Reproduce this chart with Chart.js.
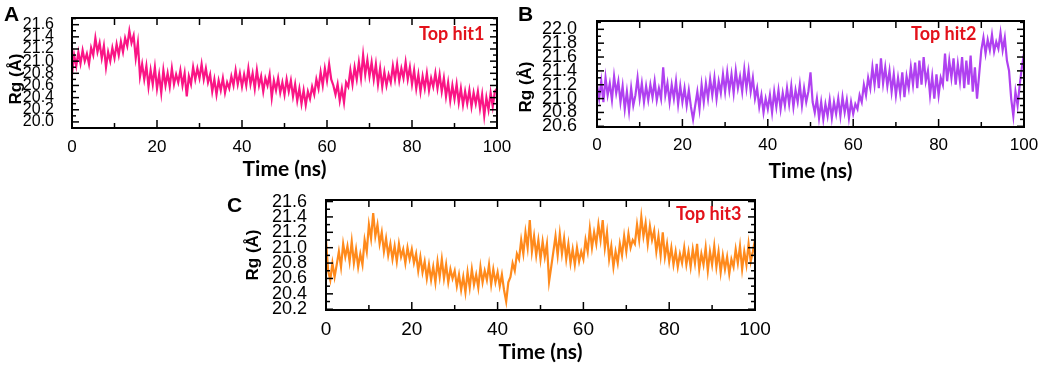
<!DOCTYPE html>
<html>
<head>
<meta charset="utf-8">
<script src="https://cdn.jsdelivr.net/npm/chart.js@4.4.1/dist/chart.umd.min.js"></script>
<style>
  body { margin: 0; background: #fff; width: 1045px; height: 366px; position: relative; overflow: hidden; font-family: 'Liberation Sans', Arial, sans-serif; }
  canvas { position: absolute; }
  .letter { position: absolute; font-weight: bold; font-size: 21px; line-height: 1; color: #000; }
  .ylab { position: absolute; font-weight: bold; font-size: 17px; line-height: 1; white-space: nowrap; transform: translate(-50%, -50%) rotate(-90deg); }
  .hit { position: absolute; color: #e3121b; font-weight: bold; font-family: Lato, 'Liberation Sans', sans-serif; font-size: 18px; line-height: 1; }
</style>
</head>
<body>
<canvas id="chartA" width="515" height="185" style="left:0;top:0"></canvas>
<canvas id="chartB" width="530" height="185" style="left:515px;top:0"></canvas>
<canvas id="chartC" width="560" height="186" style="left:220px;top:180px"></canvas>

<div class="letter" style="left:4px;top:3px">A</div>
<div class="letter" style="left:518px;top:3px">B</div>
<div class="letter" style="left:227px;top:194px">C</div>

<div class="ylab" style="left:15px;top:79px">Rg (Å)</div>
<div class="ylab" style="left:525px;top:87px">Rg (Å)</div>
<div class="ylab" style="left:252px;top:255px">Rg (Å)</div>

<div class="hit" style="left:419px;top:24px">Top hit1</div>
<div class="hit" style="left:911px;top:24px">Top hit2</div>
<div class="hit" style="left:676px;top:204px">Top hit3</div>

<script>
// sampling step of the read-off series (ns)
const STEP = 0.5;

const xTicks = [0, 20, 40, 60, 80, 100];
const yTicksA = [20.0, 20.2, 20.4, 20.6, 20.8, 21.0, 21.2, 21.4, 21.6];
const yTicksB = [20.6, 20.8, 21.0, 21.2, 21.4, 21.6, 21.8, 22.0];
const yTicksC = [20.2, 20.4, 20.6, 20.8, 21.0, 21.2, 21.4, 21.6];

// Rg (Å), every 0.5 ns from 0 to 100 ns
const rgA = [
  20.78, 21.10, 20.92, 21.15, 20.96, 21.18, 21.00, 21.12, 20.95, 21.22,
  21.10, 21.38, 21.15, 21.30, 21.05, 21.25, 20.90, 21.15, 21.00, 21.22,
  21.05, 21.28, 21.10, 21.32, 21.15, 21.38, 21.25, 21.50, 21.30, 21.42,
  21.05, 21.30, 20.75, 20.95, 20.70, 20.92, 20.58, 20.85, 20.62, 20.90,
  20.55, 20.78, 20.48, 20.85, 20.60, 20.80, 20.58, 20.88, 20.62, 20.78,
  20.65, 20.85, 20.60, 20.80, 20.42, 20.75, 20.62, 20.90, 20.70, 20.88,
  20.72, 20.95, 20.70, 20.88, 20.65, 20.78, 20.50, 20.70, 20.45, 20.68,
  20.52, 20.72, 20.48, 20.65, 20.55, 20.75, 20.60, 20.85, 20.62, 20.80,
  20.58, 20.78, 20.60, 20.88, 20.62, 20.80, 20.55, 20.85, 20.60, 20.75,
  20.50, 20.72, 20.60, 20.78, 20.40, 20.68, 20.52, 20.72, 20.48, 20.65,
  20.45, 20.70, 20.50, 20.68, 20.42, 20.62, 20.35, 20.55, 20.30, 20.52,
  20.28, 20.50, 20.38, 20.58, 20.45, 20.70, 20.55, 20.82, 20.60, 20.88,
  20.68, 20.95, 20.70, 20.60, 20.45, 20.62, 20.35, 20.55, 20.32, 20.65,
  20.58, 20.85, 20.62, 20.90, 20.70, 20.98, 20.72, 21.10, 20.78, 21.02,
  20.75, 20.98, 20.70, 20.95, 20.62, 20.88, 20.58, 20.82, 20.60, 20.78,
  20.65, 20.92, 20.70, 20.95, 20.68, 20.88, 20.72, 20.98, 20.70, 20.90,
  20.62, 20.85, 20.55, 20.78, 20.50, 20.75, 20.55, 20.80, 20.52, 20.72,
  20.58, 20.80, 20.55, 20.78, 20.50, 20.72, 20.42, 20.65, 20.35, 20.60,
  20.38, 20.62, 20.32, 20.55, 20.28, 20.50, 20.30, 20.52, 20.25, 20.48,
  20.30, 20.50, 20.22, 20.45, 20.10, 20.40, 20.20, 20.48, 20.25, 20.50,
  20.55
];

const rgB = [
  21.20, 21.00, 21.25, 20.95, 21.30, 21.05, 21.22, 20.98, 21.32, 21.08,
  21.25, 20.95, 21.18, 20.85, 21.10, 20.82, 21.15, 20.90, 21.05, 21.30,
  21.00, 21.22, 20.95, 21.18, 20.98, 21.20, 21.02, 21.25, 20.98, 21.15,
  21.00, 21.45, 21.05, 21.22, 20.95, 21.20, 21.00, 21.25, 20.92, 21.18,
  20.95, 21.15, 20.90, 21.12, 20.88, 20.70, 20.90, 21.10, 20.85, 21.20,
  20.95, 21.22, 21.00, 21.28, 21.05, 21.30, 21.00, 21.25, 21.08, 21.35,
  21.10, 21.38, 21.12, 21.35, 21.08, 21.40, 21.15, 21.32, 21.10, 21.42,
  21.15, 21.40, 21.10, 21.30, 21.00, 21.15, 20.88, 21.05, 20.80, 21.00,
  20.85, 21.05, 20.80, 21.10, 20.88, 21.12, 20.85, 21.08, 20.90, 21.15,
  20.92, 21.18, 20.88, 21.12, 20.95, 21.20, 20.90, 21.15, 20.95, 21.10,
  21.38, 20.95, 20.80, 21.00, 20.72, 20.95, 20.70, 20.92, 20.75, 20.98,
  20.72, 20.95, 20.78, 21.00, 20.75, 21.02, 20.80, 20.98, 20.72, 20.95,
  20.78, 20.92, 20.85, 21.05, 20.95, 21.20, 21.05, 21.30, 21.15, 21.45,
  21.20, 21.50, 21.15, 21.58, 21.22, 21.45, 21.18, 21.40, 21.10, 21.35,
  21.05, 21.30, 21.08, 21.38, 21.02, 21.32, 21.15, 21.45, 21.20, 21.52,
  21.15, 21.55, 21.20, 21.60, 21.25, 21.40, 21.05, 21.32, 21.00, 21.35,
  21.05, 21.30, 21.20, 21.65, 21.25, 21.55, 21.30, 21.58, 21.20, 21.50,
  21.25, 21.60, 21.15, 21.55, 21.20, 21.62, 21.10, 21.45, 21.00, 21.35,
  21.70, 21.88, 21.65, 21.85, 21.70, 21.92, 21.68, 21.82, 21.72, 21.95,
  21.70, 21.88, 21.55, 21.40, 21.00, 20.75, 21.10, 20.90, 21.20, 21.45,
  21.65
];

const rgC = [
  21.10, 20.70, 20.58, 20.80, 20.62, 20.78, 20.95, 20.75, 21.05, 20.88,
  21.02, 20.82, 21.08, 20.80, 20.98, 20.75, 20.92, 20.78, 21.10, 20.95,
  21.30, 21.12, 21.45, 21.15, 21.30, 21.05, 21.20, 20.95, 21.12, 20.90,
  21.05, 20.85, 21.02, 20.82, 21.05, 20.88, 20.98, 20.80, 21.00, 20.85,
  20.98, 20.80, 20.92, 20.70, 20.88, 20.68, 20.82, 20.60, 20.78, 20.58,
  20.75, 20.55, 20.82, 20.62, 20.85, 20.60, 20.78, 20.55, 20.72, 20.60,
  20.70, 20.50, 20.65, 20.45, 20.62, 20.42, 20.68, 20.48, 20.72, 20.52,
  20.65, 20.48, 20.75, 20.55, 20.70, 20.58, 20.78, 20.52, 20.72, 20.55,
  20.68, 20.50, 20.65, 20.45, 20.30, 20.55, 20.62, 20.80, 20.70, 20.92,
  20.85, 21.10, 20.92, 21.20, 21.00, 21.36, 20.95, 21.15, 20.90, 21.10,
  20.85, 21.08, 20.88, 21.05, 20.56, 20.75, 20.95, 21.15, 20.90, 21.18,
  20.92, 21.12, 20.85, 21.05, 20.80, 20.98, 20.78, 21.00, 20.82, 20.95,
  20.85, 21.10, 20.95, 21.25, 21.00, 21.20, 21.05, 21.30, 21.10, 21.36,
  21.00, 21.20, 20.85, 21.02, 20.75, 20.95, 20.80, 21.05, 20.90, 21.15,
  20.95, 21.18, 21.00, 21.10, 21.05, 21.30, 21.10, 21.40, 21.15, 21.32,
  21.05, 21.28, 21.10, 21.22, 20.95, 21.15, 20.90, 21.20, 20.88, 21.05,
  20.82, 21.00, 20.78, 20.95, 20.75, 20.92, 20.80, 21.00, 20.78, 20.95,
  20.75, 20.98, 20.80, 21.05, 20.72, 20.92, 20.78, 21.00, 20.70, 20.95,
  20.78, 21.02, 20.75, 20.95, 20.68, 20.90, 20.72, 20.88, 20.66, 20.85,
  20.75, 20.98, 20.80, 21.02, 20.72, 20.95, 20.78, 21.05, 20.82, 20.95,
  21.10
];

const FONT = "'Liberation Sans', Arial, sans-serif";

// inward tick marks on all four sides plus the box
const frameTicks = {
  id: 'frameTicks',
  afterDraw(chart) {
    const { ctx, chartArea: a, scales: { x, y } } = chart;
    const seg = (x1, y1, x2, y2) => { ctx.beginPath(); ctx.moveTo(x1, y1); ctx.lineTo(x2, y2); ctx.stroke(); };
    ctx.save();
    ctx.strokeStyle = '#000';
    ctx.lineWidth = 1.5;
    for (let v = 0; v <= 100; v += 10) {
      const px = x.getPixelForValue(v);
      seg(px, a.bottom, px, a.bottom - (v % 20 === 0 ? 8 : 5));
      seg(px, a.top, px, a.top + 7);
    }
    const k0 = Math.ceil(y.min * 10 - 1e-6), k1 = Math.floor(y.max * 10 + 1e-6);
    for (let k = k0; k <= k1; k++) {
      const py = y.getPixelForValue(k / 10);
      const len = k % 2 === 0 ? 7 : 4;
      seg(a.left, py, a.left + len, py);
      seg(a.right, py, a.right - len, py);
    }
    ctx.lineWidth = 2;
    ctx.strokeRect(a.left, a.top, a.right - a.left, a.bottom - a.top);
    ctx.restore();
  }
};

function makePanel(id, values, color, yTicks, p) {
  return new Chart(document.getElementById(id), {
    type: 'line',
    data: {
      datasets: [{
        data: values.map((v, i) => ({ x: i * STEP, y: v })),
        borderColor: color,
        borderWidth: 2.2,
        pointRadius: 0,
        tension: 0
      }]
    },
    options: {
      responsive: false,
      animation: false,
      layout: { padding: { top: p.top, right: p.right, left: 0, bottom: 0 } },
      plugins: { legend: { display: false }, tooltip: { enabled: false } },
      scales: {
        x: {
          type: 'linear', min: 0, max: 100,
          afterBuildTicks: s => { s.ticks = xTicks.map(v => ({ value: v })); },
          afterFit: s => { s.height = p.xh; },
          grid: { display: false }, border: { display: false },
          ticks: { color: '#000', autoSkip: false, maxRotation: 0, padding: p.xpad, font: { family: FONT, size: p.xfont } },
          title: { display: true, text: 'Time (ns)', color: '#000', padding: { top: 0, bottom: p.tpad },
                   font: { family: "Lato, 'Liberation Sans', sans-serif", size: p.tfont, weight: 'bold' } }
        },
        y: {
          type: 'linear', min: p.ymin, max: p.ymax,
          afterBuildTicks: s => { s.ticks = yTicks.map(v => ({ value: v })); },
          afterFit: s => { s.width = p.yw; },
          grid: { display: false }, border: { display: false },
          ticks: { color: '#000', autoSkip: false, padding: p.ypad, font: { family: FONT, size: p.yfont, lineHeight: 1 }, callback: v => v.toFixed(1) }
        }
      }
    },
    plugins: [frameTicks]
  });
}

makePanel('chartA', rgA, '#fa1585', yTicksA,
  { top: 14, right: 18, xh: 57, yw: 72, ymin: 19.9, ymax: 21.71, xpad: 1, ypad: 10, xfont: 17, yfont: 16, tfont: 21, tpad: 3 });
makePanel('chartB', rgB, '#b041f0', yTicksB,
  { top: 14, right: 21, xh: 58, yw: 82, ymin: 20.59, ymax: 22.12, xpad: 0, ypad: 12, xfont: 17, yfont: 18, tfont: 21, tpad: 1 });
makePanel('chartC', rgC, '#ff8a1c', yTicksC,
  { top: 15, right: 25, xh: 56, yw: 106, ymin: 20.19, ymax: 21.62, xpad: 0, ypad: 11, xfont: 19, yfont: 18, tfont: 21, tpad: 1 });
</script>
</body>
</html>
